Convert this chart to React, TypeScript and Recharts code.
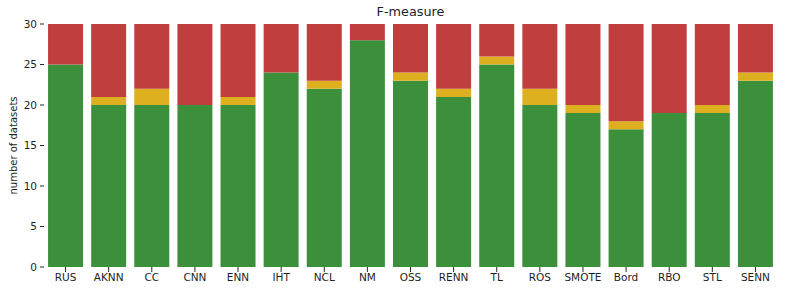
import React from 'react';
import { BarChart, Bar, XAxis, YAxis } from 'recharts';

const categories = ['RUS', 'AKNN', 'CC', 'CNN', 'ENN', 'IHT', 'NCL', 'NM', 'OSS', 'RENN', 'TL', 'ROS', 'SMOTE', 'Bord', 'RBO', 'STL', 'SENN'];
const greenValues = [25, 20, 20, 20, 20, 24, 22, 28, 23, 21, 25, 20, 19, 17, 19, 19, 23];
const yellowValues = [0, 1, 2, 0, 1, 0, 1, 0, 1, 1, 1, 2, 1, 1, 0, 1, 1];
const redValues = [5, 9, 8, 10, 9, 6, 7, 2, 6, 8, 4, 8, 10, 12, 11, 10, 6];
const yTicks = [0, 5, 10, 15, 20, 25, 30];

const data = categories.map((name, i) => ({
  name,
  green: greenValues[i],
  yellow: yellowValues[i],
  red: redValues[i],
}));

const FONT = 'DejaVu Sans, sans-serif';
const tickStyle = { fontSize: 10.5, fill: '#1e1e1e', fontFamily: FONT };

const YLabel = () => (
  <text
    x={13.5}
    y={145.5}
    transform="rotate(-90, 13.5, 145.5)"
    textAnchor="middle"
    dominantBaseline="central"
    style={{ fontSize: 10, fill: '#1e1e1e', fontFamily: FONT }}
  >
    number of datasets
  </text>
);

export default function App() {
  return (
    <div style={{ position: 'absolute', left: 0, top: 0, width: 789, height: 293, background: '#fff' }}>
      <div
        style={{
          position: 'absolute',
          left: 44,
          width: 733,
          top: 3,
          textAlign: 'center',
          fontFamily: FONT,
          fontSize: 12.8,
          color: '#1e1e1e',
          lineHeight: '18px',
        }}
      >
        F-measure
      </div>
      <BarChart
        width={789}
        height={293}
        data={data}
        margin={{ top: 24, right: 12, bottom: 0, left: 0 }}
        barCategoryGap="9.4%"
      >
        <XAxis
          dataKey="name"
          axisLine={false}
          tickLine={{ stroke: '#262626' }}
          tickSize={5}
          tickMargin={2}
          height={26}
          tick={tickStyle}
          interval={0}
        />
        <YAxis
          type="number"
          domain={[0, 30]}
          ticks={yTicks}
          axisLine={false}
          tickLine={{ stroke: '#262626' }}
          tickSize={4}
          tickMargin={3}
          width={44}
          tick={tickStyle}
          label={<YLabel />}
        />
        <Bar dataKey="green" stackId="a" fill="#3c903c" isAnimationActive={false} />
        <Bar dataKey="yellow" stackId="a" fill="#deb020" isAnimationActive={false} />
        <Bar dataKey="red" stackId="a" fill="#c03e3e" isAnimationActive={false} />
      </BarChart>
    </div>
  );
}
